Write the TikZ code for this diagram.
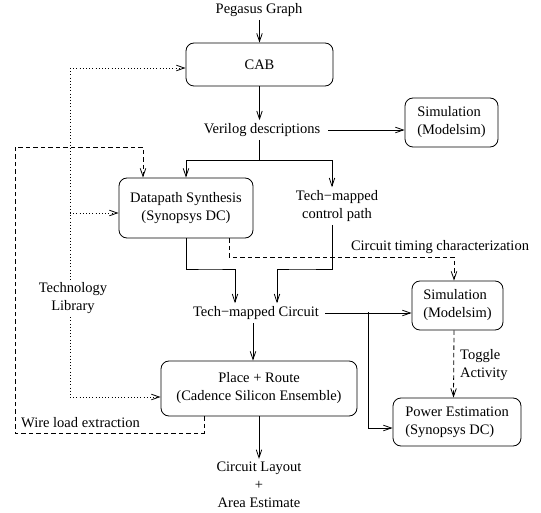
\documentclass[tikz,border=0pt]{standalone}
\usepackage{fontspec}
\setmainfont{Liberation Serif}
\usetikzlibrary{arrows.meta}
\begin{document}
\begin{tikzpicture}[x=1pt,y=-1pt,
  >={Straight Barb[length=8pt,width=5.5pt]},
  every node/.style={font=\fontsize{14.5}{18}\selectfont, inner sep=3pt},
  box/.style={draw, rounded corners=8pt, line width=0.8pt},
  ln/.style={line width=0.8pt},
  dsh/.style={line width=0.8pt, dash pattern=on 4.5pt off 3pt},
  dot/.style={line width=0.8pt, dash pattern=on 0.8pt off 2.4pt}]
\useasboundingbox (0,0) rectangle (541,513);
% nodes
\node (peg) at (259,10) {Pegasus Graph};
\node[box, minimum width=147pt, minimum height=43pt] (cab) at (259.5,64.5) {CAB};
\node (ver) at (262,130) {Verilog descriptions};
\node[box, minimum width=93pt, minimum height=49pt, align=left] (sim1) at (451.5,122.5) {Simulation\\(Modelsim)};
\node[box, minimum width=134pt, minimum height=60pt, align=center] (dp) at (186,208) {Datapath Synthesis\\(Synopsys DC)};
\node[align=center] (ctl) at (337,206) {Tech−mapped\\control path};
\node (tmc) at (256,313) {Tech−mapped Circuit};
\node[box, minimum width=91pt, minimum height=49pt, align=left] (sim2) at (457.5,305.5) {Simulation\\(Modelsim)};
\node[box, minimum width=128pt, minimum height=48pt, align=left] (pow) at (457,422) {Power Estimation\\(Synopsys DC)};
\node[box, minimum width=196pt, minimum height=55pt, align=center] (pr) at (259,388.5) {Place + Route\\(Cadence Silicon Ensemble)};
\node[align=center] (lay) at (259,485) {Circuit Layout\\+\\Area Estimate};
\node[align=center] (tech) at (73,298.5) {Technology\\Library};
\node (cirt) at (440,247) {Circuit timing characterization};
\node[align=left, anchor=west] (tog) at (457,365) {Toggle\\Activity};
\node[anchor=west] (wire) at (18,423) {Wire load extraction};
% coordinates
\coordinate (sp) at (259,160);
\coordinate (dl) at (70,68);
\coordinate (br) at (368,312);
\coordinate (dpin) at (70,213);
\coordinate (prin) at (70,397);
% solid connectors
\draw[ln,->] (peg.south -| cab.north) -- (cab.north);
\draw[ln,->] (cab.south) -- (cab.south |- ver.north);
\draw[ln,->] ([xshift=5pt]ver.east) -- (ver.east -| sim1.west);
\draw[ln] (ver.south -| sp) -- (sp);
\draw[ln,->] (sp) -| (dp.north);
\draw[ln,->] (sp) -| ([xshift=-5pt]ctl.north);
\draw[ln,->] (dp.south) |- (210,269) -| ([xshift=-21pt]tmc.north);
\draw[ln,->] ([xshift=-5pt]ctl.south) |- (300,269) -| ([xshift=21pt]tmc.north);
\draw[ln,->] ([xshift=3pt]tmc.east) -- (tmc.east -| sim2.west);
\draw[ln,->] (br) |- ([yshift=-6pt]pow.west);
\draw[ln,->] ([xshift=-3pt]tmc.south) -- ([xshift=-3pt]tmc.south |- pr.north);
\draw[ln,->] (pr.south) -- (pr.south |- lay.north);
% dashed connectors
\draw[dsh,->] ([xshift=43pt]dp.south) |- (300,257) -| ([xshift=-3.5pt]sim2.north);
\draw[dsh,->] ([xshift=-3.5pt]sim2.south) -- ([xshift=-3.5pt]pow.north);
\draw[dsh,->] ([xshift=-55pt]pr.south) |- (15,433) |- (100,147) -| ([xshift=-43pt]dp.north);
% dotted connectors
\draw[dot] (dl) -- (dl |- tech.north);
\draw[dot] (dl |- tech.south) -- (prin);
\draw[dot,->] (dl) -- (dl -| cab.west);
\draw[dot,->] (dpin) -- (dpin -| dp.west);
\draw[dot,->] (prin) -- (prin -| pr.west);
\end{tikzpicture}
\end{document}
